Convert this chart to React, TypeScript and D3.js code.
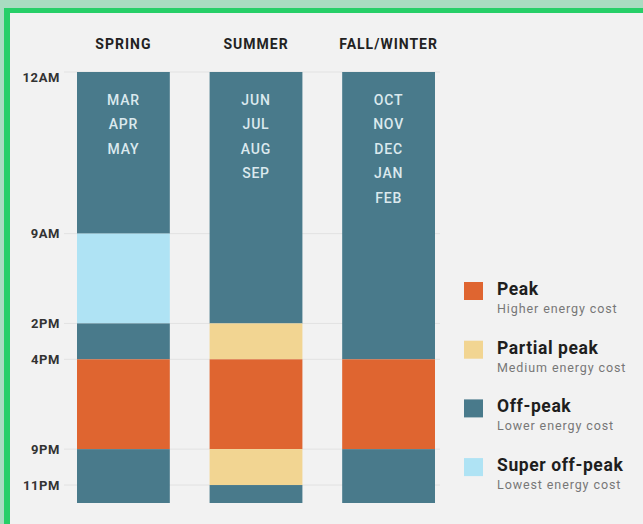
import { useEffect, useRef } from 'react';
import * as d3 from 'd3';

// seasons + the months printed inside each bar
const seasons = ['SPRING', 'SUMMER', 'FALL/WINTER'];
const seasonMonths = [
  ['MAR', 'APR', 'MAY'],
  ['JUN', 'JUL', 'AUG', 'SEP'],
  ['OCT', 'NOV', 'DEC', 'JAN', 'FEB'],
];

// hour boundaries of each rate block, and the rate of each block
const springHours = [0, 9, 14, 16, 21, 24];
const springRates = ['Off-peak', 'Super off-peak', 'Off-peak', 'Peak', 'Off-peak'];
const summerHours = [0, 14, 16, 21, 23, 24];
const summerRates = ['Off-peak', 'Partial peak', 'Peak', 'Partial peak', 'Off-peak'];
const fallHours = [0, 16, 21, 24];
const fallRates = ['Off-peak', 'Peak', 'Off-peak'];

const tickHours = [0, 9, 14, 16, 21, 23];
const tickLabels = ['12AM', '9AM', '2PM', '4PM', '9PM', '11PM'];

const rateNames = ['Peak', 'Partial peak', 'Off-peak', 'Super off-peak'];
const rateDescs = ['Higher energy cost', 'Medium energy cost', 'Lower energy cost', 'Lowest energy cost'];
const rateColors = ['#df6530', '#f2d592', '#497a8b', '#afe3f4'];

export default function App() {
  const ref = useRef<SVGSVGElement>(null);

  useEffect(() => {
    if (!ref.current) return;
    const svg = d3.select(ref.current);
    svg.selectAll('*').remove();

    const W = 643;
    const H = 524;
    const font = 'Roboto, "DejaVu Sans", sans-serif';

    // frame
    svg.append('rect').attr('width', W).attr('height', H).attr('fill', '#a9dcc1');
    svg.append('rect').attr('x', 4).attr('y', 8).attr('width', W).attr('height', H).attr('fill', '#27cf68');
    svg.append('rect').attr('x', 10).attr('y', 13).attr('width', W).attr('height', H).attr('fill', '#f2f2f2');

    const x = d3.scaleBand<string>().domain(seasons).range([77, 435]).paddingInner(0.3);
    const y = d3.scaleLinear().domain([0, 24]).range([72, 503]);
    const color = d3.scaleOrdinal<string, string>().domain(rateNames).range(rateColors);

    // faint hour guides
    svg.append('g')
      .selectAll('line')
      .data(tickHours)
      .join('line')
      .attr('x1', 64)
      .attr('x2', 440)
      .attr('y1', (d) => y(d))
      .attr('y2', (d) => y(d))
      .attr('stroke', '#e2e2e2')
      .attr('stroke-width', 1);

    svg.append('g')
      .selectAll('text')
      .data(tickHours)
      .join('text')
      .attr('x', 60)
      .attr('y', (d, i) => y(d) + (i === 0 ? 5 : 0))
      .attr('dy', '0.35em')
      .attr('text-anchor', 'end')
      .attr('fill', '#333')
      .attr('font-family', font)
      .attr('font-weight', 700)
      .attr('font-size', '13px')
      .attr('letter-spacing', '0.6px')
      .text((_, i) => tickLabels[i]);

    const blocks = [
      [springHours, springRates],
      [summerHours, summerRates],
      [fallHours, fallRates],
    ] as [number[], string[]][];

    blocks.forEach(([hours, rates], s) => {
      const season = seasons[s];
      const bx = x(season)!;
      const g = svg.append('g');
      g.selectAll('rect')
        .data(rates)
        .join('rect')
        .attr('x', bx)
        .attr('width', x.bandwidth())
        .attr('y', (_, i) => y(hours[i]))
        .attr('height', (_, i) => y(hours[i + 1]) - y(hours[i]))
        .attr('fill', (d) => color(d));

      svg.append('text')
        .attr('x', bx + x.bandwidth() / 2)
        .attr('y', 44)
        .attr('dy', '0.35em')
        .attr('text-anchor', 'middle')
        .attr('fill', '#222')
        .attr('font-family', font)
        .attr('font-weight', 700)
        .attr('font-size', '14px')
        .attr('letter-spacing', '1px')
        .text(season);

      g.selectAll('text')
        .data(seasonMonths[s])
        .join('text')
        .attr('x', bx + x.bandwidth() / 2)
        .attr('y', (_, i) => 100 + i * 24.5)
        .attr('dy', '0.35em')
        .attr('text-anchor', 'middle')
        .attr('fill', '#dbe9ee')
        .attr('font-family', font)
        .attr('font-weight', 500)
        .attr('font-size', '14px')
        .attr('letter-spacing', '0.8px')
        .text((d) => d);
    });

    // legend
    const lg = svg.append('g').attr('transform', 'translate(464,282)');
    rateNames.forEach((name, i) => {
      const row = lg.append('g').attr('transform', `translate(0,${i * 58.7})`);
      row.append('rect').attr('width', 19).attr('height', 18).attr('fill', rateColors[i]);
      row.append('text')
        .attr('x', 33)
        .attr('y', 13)
        .attr('fill', '#1e1e1e')
        .attr('font-family', font)
        .attr('font-weight', 700)
        .attr('font-size', '17.5px')
        .attr('letter-spacing', '0.6px')
        .text(name);
      row.append('text')
        .attr('x', 33)
        .attr('y', 31)
        .attr('fill', '#777')
        .attr('font-family', font)
        .attr('font-size', '12.5px')
        .attr('letter-spacing', '0.9px')
        .text(rateDescs[i]);
    });
  }, []);

  return (
    <svg
      ref={ref}
      width={643}
      height={524}
      style={{ position: 'absolute', left: 0, top: 0, display: 'block' }}
    />
  );
}
